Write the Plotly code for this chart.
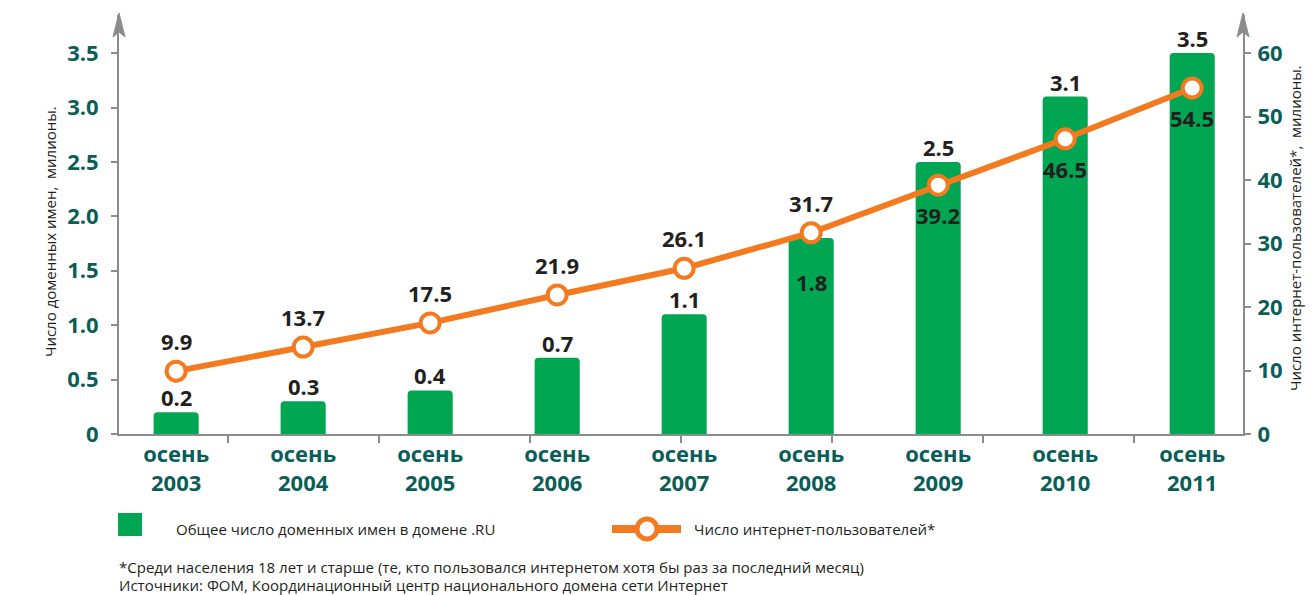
import plotly.graph_objects as go

# ---- data ----
categories = ["осень<br>2003", "осень<br>2004", "осень<br>2005", "осень<br>2006", "осень<br>2007",
              "осень<br>2008", "осень<br>2009", "осень<br>2010", "осень<br>2011"]
domain_names = [0.2, 0.3, 0.4, 0.7, 1.1, 1.8, 2.5, 3.1, 3.5]          # millions
internet_users = [9.9, 13.7, 17.5, 21.9, 26.1, 31.7, 39.2, 46.5, 54.5]  # millions
left_ticks = [0, 0.5, 1.0, 1.5, 2.0, 2.5, 3.0, 3.5]
left_ticktext = ["0", "0.5", "1.0", "1.5", "2.0", "2.5", "3.0", "3.5"]
right_ticks = [0, 10, 20, 30, 40, 50, 60]
right_ticktext = ["0", "10", "20", "30", "40", "50", "60"]
divider_ticks = [1, 2, 3, 4, 5, 6, 7]

legend_bar = "Общее число доменных имен в домене .RU"
legend_line = "Число интернет-пользователей*"
left_title = "Число доменных имен,  милионы."
right_title = "Число интернет-пользователей*,  милионы."
footnote1 = "*Среди населения 18 лет и старше (те, кто пользовался интернетом хотя бы раз за последний месяц)"
footnote2 = "Источники: ФОМ, Координационный центр национального домена сети Интернет"

# ---- style ----
GREEN = "#00a651"
ORANGE = "#f47a20"
TEAL = "#0b5e57"
DARK = "#231f20"
GRAY = "#8c8c8c"
FONT = "Open Sans"

W, H = 1313, 595
L, R, T, B = 119, 70, 15, 161
PW, PH = W - L - R, H - T - B


def px_x(p):
    return (p - L) / PW


def px_y(p):
    return (H - B - p) / PH


x = list(range(len(categories)))

fig = go.Figure()
fig.add_trace(go.Bar(x=x, y=domain_names, width=0.355, marker=dict(color=GREEN, line_width=0),
                     yaxis="y", showlegend=False, hoverinfo="skip"))
fig.add_trace(go.Scatter(x=x, y=internet_users, yaxis="y2", mode="lines+markers",
                         line=dict(color=ORANGE, width=6),
                         marker=dict(size=19, color="white", line=dict(color=ORANGE, width=4)),
                         showlegend=False, hoverinfo="skip", cliponaxis=False))
# invisible helper trace so the divider-tick axis is drawn
fig.add_trace(go.Scatter(x=[divider_ticks[0]], y=[0], xaxis="x2", yaxis="y", mode="markers",
                         marker=dict(opacity=0), showlegend=False, hoverinfo="skip"))

ann = []
label_font = dict(family=FONT, size=22, color=DARK, weight=700)
for i, v in enumerate(domain_names):
    if i == 5:
        ann.append(dict(x=i, y=v, xref="x", yref="y", text=f"{v:.1f}", showarrow=False,
                        yanchor="middle", yshift=-44, font=label_font))
    else:
        ann.append(dict(x=i, y=v, xref="x", yref="y", text=f"{v:.1f}", showarrow=False,
                        yanchor="middle", yshift=15, font=label_font))
for i, v in enumerate(internet_users):
    shift = 30 if i < 6 else -30
    ann.append(dict(x=i, y=v, xref="x", yref="y2", text=f"{v:.1f}", showarrow=False,
                    yanchor="middle", yshift=shift, font=label_font))

# axis titles
ann.append(dict(x=px_x(38), y=px_y(232), xref="paper", yref="paper", text=left_title, textangle=-90,
                showarrow=False, font=dict(family=FONT, size=15, color=DARK)))
ann.append(dict(x=px_x(1307), y=px_y(228), xref="paper", yref="paper", text=right_title, textangle=-90,
                showarrow=False, font=dict(family=FONT, size=15, color=DARK)))

# legend texts
small = dict(family=FONT, size=15, color=DARK)
ann.append(dict(x=px_x(174), y=px_y(529), xref="paper", yref="paper", text=legend_bar, showarrow=False,
                xanchor="left", yanchor="middle", font=small))
ann.append(dict(x=px_x(692), y=px_y(529), xref="paper", yref="paper", text=legend_line, showarrow=False,
                xanchor="left", yanchor="middle", font=small))
# footnotes
foot = dict(family=FONT, size=15, color=DARK)
ann.append(dict(x=px_x(117), y=px_y(567), xref="paper", yref="paper", text=footnote1, showarrow=False,
                xanchor="left", yanchor="middle", font=foot))
ann.append(dict(x=px_x(117), y=px_y(585), xref="paper", yref="paper", text=footnote2, showarrow=False,
                xanchor="left", yanchor="middle", font=foot))

shapes = []
# legend symbols
shapes.append(dict(type="rect", xref="paper", yref="paper", x0=px_x(118), x1=px_x(142),
                   y0=px_y(536), y1=px_y(513), fillcolor=GREEN, line_width=0))
shapes.append(dict(type="line", xref="paper", yref="paper", x0=px_x(612), x1=px_x(681),
                   y0=px_y(529), y1=px_y(529), line=dict(color=ORANGE, width=8)))
shapes.append(dict(type="circle", xref="paper", yref="paper", x0=px_x(637), x1=px_x(657),
                   y0=px_y(539), y1=px_y(519), fillcolor="white", line=dict(color=ORANGE, width=5)))
# axis arrowheads
for ax_x in (0, 1):
    shapes.append(dict(type="path", xref="paper", yref="paper", xsizemode="pixel", ysizemode="pixel",
                       xanchor=ax_x, yanchor=1, path="M -6,-22 L 0,2 L 6,-22 L 0,-17 Z",
                       fillcolor=GRAY, line=dict(color=GRAY, width=1)))

axis_font = dict(family=FONT, size=22, color=TEAL, weight=700)
fig.update_layout(
    width=W, height=H, autosize=False,
    margin=dict(l=L, r=R, t=T, b=B, pad=0),
    plot_bgcolor="white", paper_bgcolor="white",
    barcornerradius=4,
    xaxis=dict(range=[-0.45, 8.4], tickvals=x, ticktext=categories, ticks="", showline=True,
               linecolor=GRAY, linewidth=2, showgrid=False, zeroline=False, tickfont=axis_font,
               fixedrange=True),
    xaxis2=dict(overlaying="x", anchor="y", side="bottom", range=[0.278, 7.722], tickvals=divider_ticks,
                ticks="outside", ticklen=8, tickcolor=GRAY, tickwidth=2, showticklabels=False,
                showline=False, showgrid=False, zeroline=False),
    yaxis=dict(range=[0, 3.85], tickvals=left_ticks, ticktext=left_ticktext, ticks="outside", ticklen=6,
               tickcolor=GRAY, tickwidth=2, showline=True, linecolor=GRAY, linewidth=2, showgrid=False,
               zeroline=False, tickfont=axis_font, ticklabelstandoff=8),
    yaxis2=dict(range=[0, 66], overlaying="y", side="right", tickvals=right_ticks, ticktext=right_ticktext,
                ticks="outside", ticklen=6, tickcolor=GRAY, tickwidth=2, showline=True, linecolor=GRAY,
                linewidth=2, showgrid=False, zeroline=False, tickfont=axis_font, ticklabelstandoff=2),
    annotations=ann,
    shapes=shapes,
    showlegend=False,
)

fig.write_html("out.html", config={"displayModeBar": False},
               post_script="document.body.style.margin='0';document.body.style.overflow='hidden';")
